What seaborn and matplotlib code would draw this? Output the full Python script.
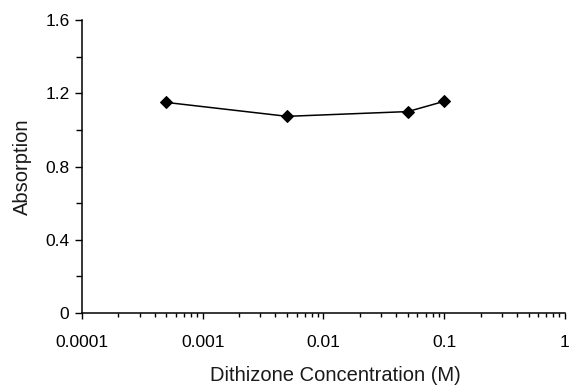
import matplotlib
matplotlib.use("Agg")
import matplotlib.pyplot as plt
import matplotlib.ticker as mticker
import seaborn as sns
import pandas as pd
import numpy as np

concentration = [0.0005, 0.005, 0.05, 0.1]
absorption = [1.15, 1.074, 1.10, 1.156]
x_ticks = [0.0001, 0.001, 0.01, 0.1, 1]
x_tick_labels = ["0.0001", "0.001", "0.01", "0.1", "1"]
y_ticks = [0, 0.4, 0.8, 1.2, 1.6]
y_tick_labels = ["0", "0.4", "0.8", "1.2", "1.6"]

sns.set_style("ticks")
plt.rcParams['font.family'] = ['Liberation Sans', 'DejaVu Sans']

df = pd.DataFrame({"conc": concentration, "abs": absorption})

fig = plt.figure(figsize=(5.73, 3.85), dpi=100)
ax = fig.add_axes([0.143, 0.187, 0.843, 0.761])

sns.lineplot(data=df, x="conc", y="abs", ax=ax, color="black", linewidth=1.1,
             marker="D", markersize=6.5, markeredgecolor="black", markerfacecolor="black")

ax.set_xscale("log")
ax.set_xlim(0.0001, 1)
ax.set_ylim(0, 1.6)
ax.set_xticks(x_ticks)
ax.set_xticklabels(x_tick_labels)
ax.xaxis.set_minor_locator(mticker.LogLocator(base=10, subs=np.arange(2, 10), numticks=20))
ax.xaxis.set_minor_formatter(mticker.NullFormatter())
ax.set_yticks(y_ticks)
ax.set_yticklabels(y_tick_labels)
ax.yaxis.set_minor_locator(mticker.MultipleLocator(0.2))

ax.tick_params(axis="both", which="major", direction="out", length=5, width=1, colors="black", labelsize=12.5, pad=4)
ax.tick_params(axis="x", which="major", length=4.5, pad=11)
ax.tick_params(axis="both", which="minor", direction="out", length=4, width=1, colors="black")
ax.tick_params(axis="x", which="minor", length=3)

for s in ["top", "right"]:
    ax.spines[s].set_visible(False)
for s in ["left", "bottom"]:
    ax.spines[s].set_color("black")
    ax.spines[s].set_linewidth(1.1)

ax.set_xlabel("Dithizone Concentration (M)", fontsize=14.5, color="#1a1a1a")
ax.set_ylabel("Absorption", fontsize=14.5, color="#1a1a1a")
ax.xaxis.set_label_coords(0.524, -0.182)
ax.yaxis.set_label_coords(-0.104, 0.5)

fig.savefig("out.png", dpi=100)
